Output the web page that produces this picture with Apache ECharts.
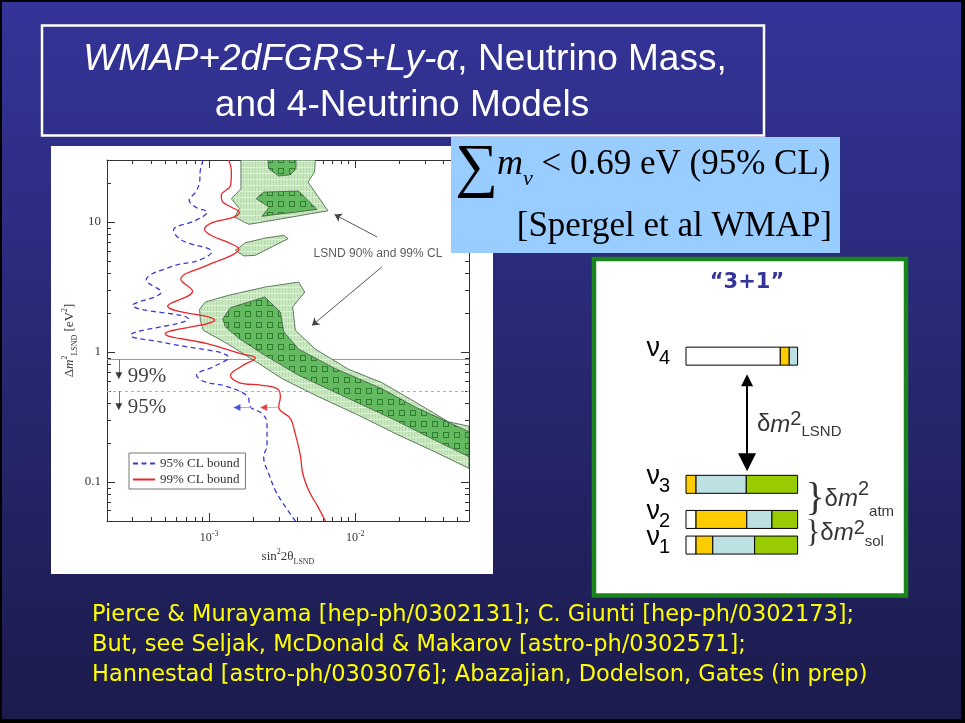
<!DOCTYPE html>
<html><head><meta charset="utf-8"><title>WMAP+2dFGRS+Ly-α, Neutrino Mass, and 4-Neutrino Models</title>
<script src="https://cdn.jsdelivr.net/npm/echarts@6.0.0/dist/echarts.min.js"></script>
<style>html,body{margin:0;padding:0;background:#000;overflow:hidden}#chart{width:965px;height:723px}</style>
</head><body><div id="chart"></div>
<script>
// ---------------- data (sin^2 2θ , Δm^2 [eV^2]) ----------------
const xMin = 2e-4, xMax = 0.06, yMin = 0.05, yMax = 30;
const xMajorTicks = [1e-3, 1e-2];
const xMinorTicks = [3e-4,4e-4,5e-4,6e-4,7e-4,8e-4,9e-4,2e-3,3e-3,4e-3,5e-3,6e-3,7e-3,8e-3,9e-3,2e-2,3e-2,4e-2,5e-2];
const yMajorTicks = [0.1, 1, 10];
const yMinorTicks = [0.06,0.07,0.08,0.09,0.2,0.3,0.4,0.5,0.6,0.7,0.8,0.9,2,3,4,5,6,7,8,9,20];

const blueBound95 = [
 [9.1e-4,30],[8.7e-4,24.9],[8.6e-4,20.3],[8.1e-4,17.0],[7.3e-4,14.7],[8.1e-4,13.0],[9.7e-4,11.9],[8.1e-4,10.3],
 [5.7e-4,8.63],[6.5e-4,7.23],[1.04e-3,5.88],[8.5e-4,5.07],[5.7e-4,4.59],[3.7e-4,3.56],[4.7e-4,2.89],[3.0e-4,2.29],
 [7.2e-4,1.80],[2.9e-4,1.34],[4.9e-4,1.18],[1.36e-3,0.90],[1.1e-3,0.78],[8.2e-4,0.66],[9.4e-4,0.588],[1.29e-3,0.547],
 [1.82e-3,0.459],[1.92e-3,0.377],[2.3e-3,0.336],[2.49e-3,0.281],[2.49e-3,0.191],[2.36e-3,0.156],[2.58e-3,0.1125],
 [2.87e-3,0.0838],[3.33e-3,0.0642],[3.89e-3,0.05]
];
const redBound99 = [
 [1.36e-3,30],[1.42e-3,24.3],[1.40e-3,19.1],[1.21e-3,16.0],[1.23e-3,14.4],[1.42e-3,13.0],[1.61e-3,11.9],[1.47e-3,10.9],
 [1.05e-3,9.88],[9.3e-4,8.78],[1.05e-3,7.8],[1.36e-3,6.93],[1.6e-3,6.16],[1.40e-3,5.48],[9.7e-4,4.64],[6.4e-4,3.62],
 [7.7e-4,2.93],[5.2e-4,2.26],[1.09e-3,1.76],[5.0e-4,1.38],[9.7e-4,1.16],[1.64e-3,0.971],[2.07e-3,0.90],[1.68e-3,0.78],
 [1.40e-3,0.66],[1.6e-3,0.581],[2.3e-3,0.554],[2.96e-3,0.516],[3.07e-3,0.451],[2.99e-3,0.377],[3.6e-3,0.307],
 [3.85e-3,0.243],[4.21e-3,0.160],[4.37e-3,0.116],[4.85e-3,0.0838],[5.47e-3,0.0662],[6.24e-3,0.05]
];
// LSND allowed regions (99% outer, 90% inner)
const lsnd99Top = [[1.65e-3,30],[5.33e-3,30],[5.27e-3,24.3],[4.75e-3,20.3],[6.5e-3,12.2],[2.19e-3,9.88],[1.87e-3,9.6],
 [1.49e-3,10.9],[1.61e-3,12.7],[1.42e-3,15.1],[1.65e-3,18.0]];
const lsnd90TopA = [[2.53e-3,30],[3.93e-3,30],[3.93e-3,25.7],[3.6e-3,23.1],[2.99e-3,22.6],[2.56e-3,25.7]];
const lsnd90TopB = [[2.36e-3,17.0],[4.10e-3,17.3],[5.47e-3,12.5],[2.30e-3,11.06],[2.58e-3,13.0],[2.10e-3,15.1]];
const lsnd99Island = [[1.51e-3,6.05],[1.77e-3,6.93],[2.43e-3,7.53],[3.24e-3,7.89],[3.47e-3,7.44],[2.07e-3,5.54],[1.73e-3,5.48]];
const lsnd99Main = [[8.6e-4,2.13],[9.4e-4,2.42],[1.36e-3,2.73],[2.43e-3,3.16],[4.10e-3,3.45],[4.51e-3,2.89],[3.73e-3,2.22],
 [3.89e-3,1.47],[5.33e-3,1.05],[9.0e-3,0.735],[1.52e-2,0.581],[2.57e-2,0.412],[4.34e-2,0.29],[0.06,0.268],[0.06,0.127],
 [3.52e-2,0.170],[1.98e-2,0.229],[1.05e-2,0.326],[5.33e-3,0.464],[3.15e-3,0.624],[2.07e-3,0.848],[1.36e-3,1.14],
 [9.1e-4,1.47],[8.7e-4,1.75]];
const lsnd90Main = [[1.24e-3,1.80],[1.40e-3,2.19],[2.40e-3,2.65],[3.07e-3,2.03],[3.24e-3,1.43],[4.10e-3,1.05],[7.30e-3,0.744],
 [1.52e-2,0.522],[2.57e-2,0.377],[0.06,0.243],[0.06,0.156],[3.52e-2,0.209],[1.88e-2,0.298],[9.0e-3,0.438],[4.10e-3,0.661],
 [2.30e-3,0.971],[1.60e-3,1.27],[1.29e-3,1.56]];
// mass bounds drawn as horizontal lines (99% solid, 95% dashed)
const massBound99 = 0.875, massBound95 = 0.5;
// annotation anchors
const lsndLabelAt = [1.43e-2, 5.71];
const lsndArrows = [[[1.41e-2,7.67],[7.22e-3,11.4]], [[1.52e-2,4.51],[5.06e-3,1.60]]];
const clArrowX = 2.41e-4, clLabelX = 2.77e-4;
const clLabels = [['99%', 0.645], ['95%', 0.373]];
const clArrowTips = [0.655, 0.378];
const boundArrowY = 0.373;
const blueArrow = [1.97e-3, 1.55e-3];
const redArrow = [2.99e-3, 2.36e-3];

// "3+1" mass-level scheme: flavour content of each mass state (percent)
const levelSub = ['1','2','3','4'];
const levelPos = [0, 1, 2.37, 7.37];
const flavorSterile = [9, 9, 0, 84.5];
const flavorE = [15, 45.5, 9, 8];
const flavorMu = [37.5, 22.5, 45, 7.5];
const flavorTau = [38.5, 23, 46, 0];
const lsndArrowX = 54.7, lsndArrowEnds = [3.23, 6.43];

// ---------------- styling helpers ----------------
const serif = 'Liberation Serif', sans = 'Liberation Sans';
function pattern(size, bg, draw) {
  const c = document.createElement('canvas'); c.width = c.height = size;
  const g = c.getContext('2d'); g.fillStyle = bg; g.fillRect(0, 0, size, size); draw(g);
  return {image: c, repeat: 'repeat'};
}
const lightFill = pattern(6, '#cce7c3', g => { g.fillStyle = '#b6dbab'; g.fillRect(0,0,1,6); g.fillRect(3,0,1,6); g.fillStyle = '#def0d8'; g.fillRect(0,5,6,1); });
const darkFill = pattern(11, '#63ba60', g => { g.strokeStyle = '#2f7e2f'; g.lineWidth = 1; g.strokeRect(3.5,3.5,5,5); });

function polygon(name, pts, fill, z) {
  return {
    type: 'custom', name, xAxisIndex: 0, yAxisIndex: 0, data: pts, z, silent: true,
    encode: {x: 0, y: 1},
    renderItem(params, api) {
      if (params.dataIndex !== 0) return null;
      const cs = params.coordSys;
      return {
        type: 'polygon', shape: {points: pts.map(p => api.coord(p))},
        style: {fill, stroke: '#3f5a3f', lineWidth: 0.8},
        clipPath: {type: 'rect', shape: {x: cs.x, y: cs.y, width: cs.width, height: cs.height}}
      };
    }
  };
}

const axisColor = '#333';
function logX(pos, ticks, len, main) {
  return {
    gridIndex: 0, type: 'log', logBase: 10, min: xMin, max: xMax, position: pos,
    axisLine: {show: main, onZero: false, lineStyle: {color: axisColor, width: 1}},
    axisTick: {show: true, inside: true, length: len, customValues: ticks, lineStyle: {color: axisColor, width: 1}},
    axisLabel: main && pos === 'bottom' ? {
      customValues: xMajorTicks, margin: 9,
      formatter: v => '{b|10}{s|' + Math.round(Math.log10(v)) + '}',
      rich: {b: {fontFamily: serif, fontSize: 12, color: '#333', lineHeight: 16},
             s: {fontFamily: serif, fontSize: 8, color: '#333', lineHeight: 8, verticalAlign: 'top'}}
    } : {show: false},
    splitLine: {show: false}, minorTick: {show: false}
  };
}
function logY(pos, ticks, len, main) {
  return {
    gridIndex: 0, type: 'log', logBase: 10, min: yMin, max: yMax, position: pos,
    axisLine: {show: main, onZero: false, lineStyle: {color: axisColor, width: 1}},
    axisTick: {show: true, inside: true, length: len, customValues: ticks, lineStyle: {color: axisColor, width: 1}},
    axisLabel: main && pos === 'left' ? {
      customValues: yMajorTicks, margin: 6, formatter: v => String(v),
      fontFamily: serif, fontSize: 13, color: '#333'
    } : {show: false},
    splitLine: {show: false}, minorTick: {show: false}
  };
}

// level bar segments from flavour shares
const flavorShares = [flavorSterile, flavorE, flavorMu, flavorTau];
const flavorColors = ['#ffffff', '#ffcc00', '#bde0e3', '#99cc00'];
const segments = [];
levelPos.forEach((pos, i) => {
  let acc = 0;
  flavorShares.forEach((arr, f) => { const w = arr[i]; if (w > 0) { segments.push([acc, acc + w, pos, f]); acc += w; } });
});

const xAxes = [
  logX('bottom', xMajorTicks, 8, true), logX('bottom', xMinorTicks, 4, false),
  logX('top', xMajorTicks, 8, true), logX('top', xMinorTicks, 4, false),
  {gridIndex: 1, type: 'value', min: 0, max: 100, show: false}
];
xAxes[0].name = 'sin{s|2}2θ{u|LSND}';
xAxes[0].nameLocation = 'middle';
xAxes[0].nameGap = 27;
xAxes[0].nameTextStyle = {fontFamily: serif, fontSize: 13, color: '#333', lineHeight: 18,
  rich: {s: {fontFamily: serif, fontSize: 8, color: '#333', lineHeight: 8, verticalAlign: 'top'},
         u: {fontFamily: serif, fontSize: 8, color: '#333', lineHeight: 8, verticalAlign: 'bottom'}}};
const yAxes = [
  logY('left', yMajorTicks, 8, true), logY('left', yMinorTicks, 4, false),
  logY('right', yMajorTicks, 8, true), logY('right', yMinorTicks, 4, false),
  {gridIndex: 1, type: 'value', min: -1, max: 8, show: false}
];
yAxes[0].name = 'Δ{i|m}{s|2}{u|LSND} [eV{s|2}]';
yAxes[0].nameLocation = 'middle';
yAxes[0].nameGap = 28;
yAxes[0].nameTextStyle = {fontFamily: serif, fontSize: 13, color: '#333', lineHeight: 18,
  rich: {i: {fontFamily: serif, fontSize: 13, fontStyle: 'italic', color: '#333', lineHeight: 18},
         s: {fontFamily: serif, fontSize: 8, color: '#333', lineHeight: 8, verticalAlign: 'top'},
         u: {fontFamily: serif, fontSize: 8, color: '#333', lineHeight: 8, verticalAlign: 'bottom'}}};

const dm2Rich = {
  d: {fontFamily: sans, fontSize: 24, color: '#000', lineHeight: 30},
  m: {fontFamily: sans, fontSize: 24, fontStyle: 'italic', color: '#000', lineHeight: 30},
  e: {fontFamily: sans, fontSize: 20, color: '#000', lineHeight: 22, verticalAlign: 'top'},
  u: {fontFamily: sans, fontSize: 15, color: '#000', lineHeight: 15, verticalAlign: 'bottom'}
};

const series = [
  // reference mass bounds
  {type: 'lines', coordinateSystem: 'cartesian2d', xAxisIndex: 0, yAxisIndex: 0, z: 1, silent: true,
   data: [{coords: [[xMin, massBound99], [xMax, massBound99]]}], lineStyle: {color: '#9a9a9a', width: 1, opacity: 1}},
  {type: 'lines', coordinateSystem: 'cartesian2d', xAxisIndex: 0, yAxisIndex: 0, z: 1, silent: true,
   data: [{coords: [[xMin, massBound95], [xMax, massBound95]]}], lineStyle: {color: '#b0b0b0', width: 1, type: [3, 3], opacity: 1}},
  polygon('LSND 99% top', lsnd99Top, lightFill, 2),
  polygon('LSND 99% island', lsnd99Island, lightFill, 2),
  polygon('LSND 99% main', lsnd99Main, lightFill, 2),
  polygon('LSND 90% top A', lsnd90TopA, darkFill, 3),
  polygon('LSND 90% top B', lsnd90TopB, darkFill, 3),
  polygon('LSND 90% main', lsnd90Main, darkFill, 3),
  {type: 'line', name: '95% CL bound', xAxisIndex: 0, yAxisIndex: 0, data: blueBound95, smooth: 0.4, symbol: 'none', z: 5,
   itemStyle: {color: '#3b3bd0'}, lineStyle: {color: '#3b3bd0', width: 1.3, type: [5, 3.5]}},
  {type: 'line', name: '99% CL bound', xAxisIndex: 0, yAxisIndex: 0, data: redBound99, smooth: 0.4, symbol: 'none', z: 5,
   itemStyle: {color: '#e8262b'}, lineStyle: {color: '#e8262b', width: 1.3}},
  // LSND annotation arrows
  {type: 'lines', coordinateSystem: 'cartesian2d', xAxisIndex: 0, yAxisIndex: 0, z: 6, silent: true,
   data: lsndArrows.map(c => ({coords: c})), symbol: ['none', 'arrow'], symbolSize: 7,
   lineStyle: {color: '#444', width: 0.9, opacity: 1}},
  // 99% / 95% down arrows stems
  {type: 'lines', coordinateSystem: 'cartesian2d', xAxisIndex: 0, yAxisIndex: 0, z: 6, silent: true,
   data: [{coords: [[clArrowX, massBound99], [clArrowX, clArrowTips[0]]]}, {coords: [[clArrowX, massBound95], [clArrowX, clArrowTips[1]]]}],
   lineStyle: {color: '#555', width: 0.8, opacity: 1}},
  {type: 'scatter', xAxisIndex: 0, yAxisIndex: 0, z: 6, silent: true, symbol: 'triangle', symbolRotate: 180, symbolSize: [7, 7],
   itemStyle: {color: '#111'}, data: clArrowTips.map(y => [clArrowX, y])},
  // bound arrows (blue / red)
  {type: 'lines', coordinateSystem: 'cartesian2d', xAxisIndex: 0, yAxisIndex: 0, z: 6, silent: true,
   data: [{coords: [[blueArrow[0], boundArrowY], [blueArrow[1], boundArrowY]], lineStyle: {color: '#9fb2f0'}},
          {coords: [[redArrow[0], boundArrowY], [redArrow[1], boundArrowY]], lineStyle: {color: '#f3a3a3'}}],
   lineStyle: {width: 1, opacity: 1}},
  {type: 'scatter', xAxisIndex: 0, yAxisIndex: 0, z: 6, silent: true, symbol: 'triangle', symbolRotate: 90, symbolSize: [7, 7],
   data: [{value: [blueArrow[1], boundArrowY], itemStyle: {color: '#1f2fe0'}}, {value: [redArrow[1], boundArrowY], itemStyle: {color: '#e01f1f'}}]},
  // texts in plot
  {type: 'scatter', xAxisIndex: 0, yAxisIndex: 0, z: 7, silent: true, symbolSize: 0,
   data: [lsndLabelAt], label: {show: true, position: 'inside', formatter: 'LSND 90% and 99% CL', fontFamily: sans, fontSize: 12, color: '#333'}},
  {type: 'scatter', xAxisIndex: 0, yAxisIndex: 0, z: 7, silent: true, symbolSize: 0,
   data: clLabels.map(l => ({value: [clLabelX, l[1]], name: l[0]})),
   label: {show: true, position: 'right', distance: 0, formatter: p => p.name, fontFamily: serif, fontSize: 21, color: '#111'}},

  // ---- 3+1 scheme ----
  {type: 'custom', name: 'mass states', xAxisIndex: 4, yAxisIndex: 4, data: segments, encode: {x: [0, 1], y: 2}, silent: true, clip: false,
   renderItem(params, api) {
     const a = api.coord([api.value(0), api.value(2)]), b = api.coord([api.value(1), api.value(2)]);
     return {type: 'rect', shape: {x: a[0], y: a[1] - 9, width: b[0] - a[0], height: 18},
             style: {fill: flavorColors[api.value(3)], stroke: '#000', lineWidth: 1}};
   }},
  {type: 'custom', name: 'state labels', xAxisIndex: 4, yAxisIndex: 4, data: levelPos.map((p, i) => [0, p, i]), encode: {x: 0, y: 1}, silent: true, clip: false,
   renderItem(params, api) {
     const c = api.coord([0, api.value(1)]);
     return {type: 'group', children: [
       {type: 'text', style: {text: 'ν', x: c[0] - 26, y: c[1] - 8, align: 'right', verticalAlign: 'middle', font: '27px "Liberation Sans"', fill: '#000'}},
       {type: 'text', style: {text: levelSub[api.value(2)], x: c[0] - 27, y: c[1] + 2, align: 'left', verticalAlign: 'middle', font: '20px "Liberation Sans"', fill: '#000'}}
     ]};
   }},
  {type: 'lines', coordinateSystem: 'cartesian2d', xAxisIndex: 4, yAxisIndex: 4, silent: true, z: 4,
   data: [{coords: [[lsndArrowX, lsndArrowEnds[0]], [lsndArrowX, lsndArrowEnds[1]]]}],
   symbol: ['triangle', 'triangle'], symbolSize: [18, 12], lineStyle: {color: '#000', width: 2, opacity: 1}},
  {type: 'scatter', xAxisIndex: 4, yAxisIndex: 4, silent: true, symbolSize: 0, clip: false,
   data: [{value: [63.6, 4.69], name: 'LSND'}],
   label: {show: true, position: 'right', distance: 0, formatter: '{d|δ}{m|m}{e|2}{u|LSND}', rich: dm2Rich}},
  {type: 'scatter', xAxisIndex: 4, yAxisIndex: 4, silent: true, symbolSize: 0, clip: false,
   data: [{value: [107.0, 1.78], name: 'atm'}],
   label: {show: true, position: 'right', distance: 0, formatter: '}{d|δ}{m|m}{e|2}{u|atm}', fontFamily: serif, fontSize: 40, color: '#000', rich: dm2Rich}},
  {type: 'scatter', xAxisIndex: 4, yAxisIndex: 4, silent: true, symbolSize: 0, clip: false,
   data: [{value: [107.0, 0.45], name: 'sol'}],
   label: {show: true, position: 'right', distance: 0, formatter: '}{d|δ}{m|m}{e|2}{u|sol}', fontFamily: serif, fontSize: 31, color: '#000', rich: dm2Rich}}
];

const bottomLines = [
  'Pierce & Murayama [hep-ph/0302131]; C. Giunti [hep-ph/0302173];',
  'But, see Seljak, McDonald & Makarov [astro-ph/0302571];',
  'Hannestad [astro-ph/0303076]; Abazajian, Dodelson, Gates (in prep)'
];

const graphics = [
  {type: 'rect', z: -20, silent: true, shape: {x: 0, y: 0, width: 965, height: 723}, style: {fill: '#000'}},
  {type: 'rect', z: -19, silent: true, shape: {x: 2, y: 2, width: 959, height: 717},
   style: {fill: new echarts.graphic.LinearGradient(0, 0, 0, 1, [{offset: 0, color: '#343499'}, {offset: 1, color: '#1b1b4c'}])}},
  {type: 'rect', z: -18, silent: true, shape: {x: 42, y: 25.5, width: 722, height: 110}, style: {fill: 'none', stroke: '#fff', lineWidth: 2.5}},
  {type: 'text', z: 10, silent: true, style: {x: 405, y: 60, align: 'center', verticalAlign: 'middle',
    text: '{i|WMAP+2dFGRS+Ly-α}{n|, Neutrino Mass,}',
    rich: {i: {font: 'italic 37px "Liberation Sans"', fill: '#fff'}, n: {font: '37px "Liberation Sans"', fill: '#fff'}}}},
  {type: 'text', z: 10, silent: true, style: {x: 402, y: 106, align: 'center', verticalAlign: 'middle', text: 'and 4-Neutrino Models',
    font: '37px "Liberation Sans"', fill: '#fff'}},
  {type: 'rect', z: -18, silent: true, shape: {x: 51, y: 146, width: 442, height: 428}, style: {fill: '#fff'}},
  {type: 'rect', z: 8, silent: true, shape: {x: 451, y: 137, width: 389, height: 116}, style: {fill: '#99ccff'}},
  {type: 'text', z: 9, silent: true, style: {x: 455, y: 169, align: 'left', verticalAlign: 'middle', text: '∑', font: '60px "Liberation Serif"', fill: '#000'}},
  {type: 'text', z: 9, silent: true, style: {x: 497, y: 165, align: 'left', verticalAlign: 'middle',
    text: '{m|m}{v|ν}{t| < 0.69 eV (95% CL)}',
    rich: {m: {font: 'italic 36px "Liberation Serif"', fill: '#000', lineHeight: 50},
           v: {font: 'italic 22px "Liberation Serif"', fill: '#000', lineHeight: 22, verticalAlign: 'bottom'},
           t: {font: '35px "Liberation Serif"', fill: '#000', lineHeight: 50}}}},
  {type: 'text', z: 9, silent: true, style: {x: 832, y: 227, align: 'right', verticalAlign: 'middle', text: '[Spergel et al WMAP]',
    font: '35px "Liberation Serif"', fill: '#000'}},
  {type: 'rect', z: -18, silent: true, shape: {x: 594, y: 259, width: 312, height: 336.5}, style: {fill: '#fff', stroke: '#1c841c', lineWidth: 4.5}},
  {type: 'text', z: 10, silent: true, style: {x: 747, y: 283, align: 'center', verticalAlign: 'middle', text: '“3+1”',
    font: 'bold 21px "DejaVu Sans"', fill: '#333399'}},
  ...bottomLines.map((t, i) => ({type: 'text', z: 10, silent: true,
    style: {x: 92, y: 615 + 30 * i, align: 'left', verticalAlign: 'middle', text: t, font: '22.5px "Comic Sans MS", "DejaVu Sans"', fill: '#ffff00'}}))
];

const chart = echarts.init(document.getElementById('chart'), null, {renderer: 'canvas', width: 965, height: 723});
chart.setOption({
  animation: false,
  backgroundColor: 'transparent',
  grid: [
    {left: 107, top: 160, width: 362, height: 361, containLabel: false, show: false},
    {left: 686, top: 340, width: 111.6, height: 230.7, show: false}
  ],
  xAxis: xAxes,
  yAxis: yAxes,
  legend: {
    show: true, left: 129, top: 453, orient: 'vertical', data: ['95% CL bound', '99% CL bound'],
    itemWidth: 22, itemHeight: 11, itemGap: 3, padding: [4, 6, 3, 3],
    itemStyle: {opacity: 0},
    backgroundColor: '#fff', borderColor: '#777', borderWidth: 1, borderRadius: 0,
    textStyle: {fontFamily: serif, fontSize: 13, color: '#333'}, selectedMode: false
  },
  graphic: graphics,
  series
});
</script></body></html>
